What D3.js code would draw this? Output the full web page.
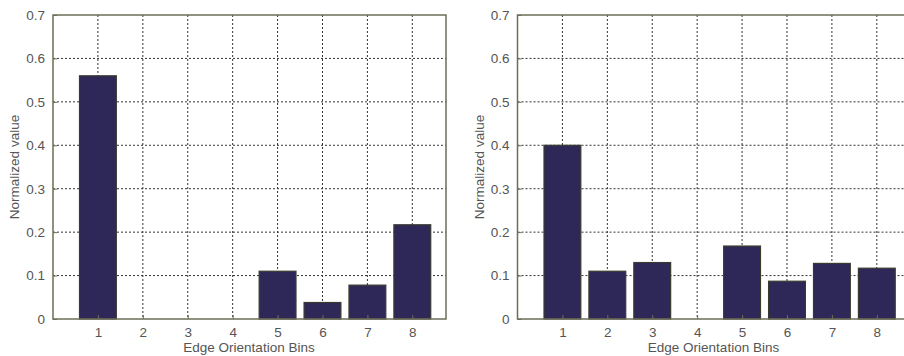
<!DOCTYPE html>
<html>
<head>
<meta charset="utf-8">
<script src="https://cdn.jsdelivr.net/npm/d3@7"></script>
<style>
    body { margin: 0; background: #ffffff; }
    svg { display: block; }
    text { font-family: "Liberation Sans", Arial, sans-serif; fill: #555555; }
</style>
</head>
<body>
<div id="chart"></div>
<script>
// Data
var bins = [1, 2, 3, 4, 5, 6, 7, 8];
var leftValues = [0.56, 0, 0, 0, 0.11, 0.038, 0.078, 0.217];
var rightValues = [0.40, 0.11, 0.13, 0, 0.168, 0.087, 0.128, 0.117];
var yTicks = [0, 0.1, 0.2, 0.3, 0.4, 0.5, 0.6, 0.7];

var width = 904, height = 356;
var axisColor = "#6e6e58";
var barColor = "#2e2858";

var svg = d3.select("#chart")
    .append("svg")
    .attr("width", width)
    .attr("height", height);

// one MATLAB-style bar panel
function drawPanel(left, values) {
    var top = 15, bottom = 319, plotWidth = 393;

    var x = d3.scaleLinear().domain([0, 8.75]).range([left, left + plotWidth]);
    var y = d3.scaleLinear().domain([0, 0.7]).range([bottom, top]);

    var g = svg.append("g");

    // dotted grid
    g.append("g").selectAll("line")
        .data(yTicks.slice(1, -1))
        .join("line")
        .attr("x1", left).attr("x2", left + plotWidth)
        .attr("y1", function(d) { return y(d); })
        .attr("y2", function(d) { return y(d); })
        .attr("stroke", "#333333")
        .attr("stroke-width", 1)
        .attr("stroke-dasharray", "2,2");

    g.append("g").selectAll("line")
        .data(bins)
        .join("line")
        .attr("x1", function(d) { return x(d); })
        .attr("x2", function(d) { return x(d); })
        .attr("y1", top).attr("y2", bottom)
        .attr("stroke", "#333333")
        .attr("stroke-width", 1)
        .attr("stroke-dasharray", "2,2");

    // bars
    var barW = x(0.82) - x(0);
    g.append("g").selectAll("rect")
        .data(values)
        .join("rect")
        .attr("x", function(d, i) { return x(bins[i]) - barW / 2; })
        .attr("y", function(d) { return y(d); })
        .attr("width", barW)
        .attr("height", function(d) { return bottom - y(d); })
        .attr("fill", barColor)
        .attr("stroke", "#3a3a30")
        .attr("stroke-width", 1.2)
        .attr("display", function(d) { return d > 0 ? null : "none"; });

    // axes
    var yAxis = d3.axisLeft(y).tickValues(yTicks)
        .tickFormat(function(d) { return d === 0 ? "0" : d3.format(".1f")(d); })
        .tickSize(-4).tickPadding(8);
    var xAxis = d3.axisBottom(x).tickValues(bins)
        .tickFormat(d3.format("d"))
        .tickSize(-4).tickPadding(8);

    var ya = g.append("g").attr("transform", "translate(" + left + ",0)").call(yAxis);
    var xa = g.append("g").attr("transform", "translate(0," + bottom + ")").call(xAxis);
    [ya, xa].forEach(function(a) {
        a.select(".domain").remove();
        a.selectAll("line").attr("stroke", axisColor);
        a.selectAll("text").attr("font-size", 13.5).style("fill", "#555555");
    });

    // frame
    g.append("rect")
        .attr("x", left).attr("y", top)
        .attr("width", plotWidth).attr("height", bottom - top)
        .attr("fill", "none")
        .attr("stroke", axisColor)
        .attr("stroke-width", 1.5);

    // labels
    g.append("text")
        .attr("x", left + 196)
        .attr("y", 352)
        .attr("text-anchor", "middle")
        .attr("font-size", 13.5)
        .text("Edge Orientation Bins");

    g.append("text")
        .attr("transform", "translate(" + (left - 34) + "," + ((top + bottom) / 2) + ") rotate(-90)")
        .attr("text-anchor", "middle")
        .attr("font-size", 13.5)
        .text("Normalized value");
}

drawPanel(53, leftValues);
drawPanel(517.5, rightValues);
</script>
</body>
</html>
